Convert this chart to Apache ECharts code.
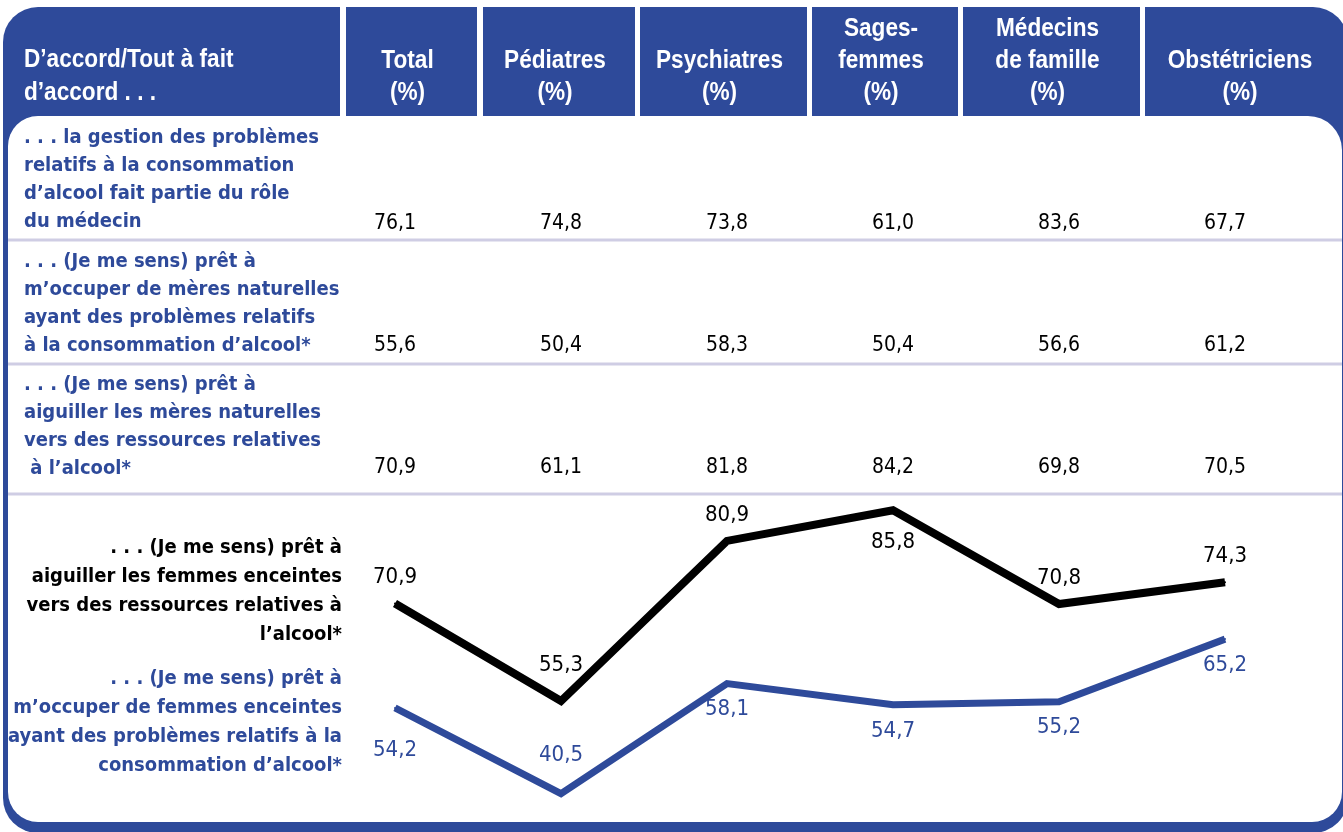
<!DOCTYPE html>
<html>
<head>
<meta charset="utf-8">
<title>Attitudes face à la consommation d'alcool</title>
<script src="https://cdn.jsdelivr.net/npm/echarts@6/dist/echarts.min.js"></script>
<style>
  html, body { margin: 0; padding: 0; background: #fff; }
  #main { width: 1343px; height: 832px; }
</style>
</head>
<body>
<div id="main"></div>
<script>
// colonnes
const columns = ['Total', 'Pédiatres', 'Psychiatres', 'Sages-\nfemmes', 'Médecins\nde famille', 'Obstétriciens']
const headTitle = 'D’accord/Tout à fait\nd’accord . . .'

// lignes du tableau
const rowLabels = [
  '. . . la gestion des problèmes\nrelatifs à la consommation\nd’alcool fait partie du rôle\ndu médecin',
  '. . . (Je me sens) prêt à\nm’occuper de mères naturelles\nayant des problèmes relatifs\nà la consommation d’alcool*',
  '. . . (Je me sens) prêt à\naiguiller les mères naturelles\nvers des ressources relatives\n à l’alcool*'
]
const roleValues = [76.1, 74.8, 73.8, 61.0, 83.6, 67.7]
const careMothersValues = [55.6, 50.4, 58.3, 50.4, 56.6, 61.2]
const referMothersValues = [70.9, 61.1, 81.8, 84.2, 69.8, 70.5]

// courbes (femmes enceintes)
const referPregnantName = '. . . (Je me sens) prêt à\naiguiller les femmes enceintes\nvers des ressources relatives à\nl’alcool*'
const carePregnantName = '. . . (Je me sens) prêt à\nm’occuper de femmes enceintes\nayant des problèmes relatifs à la\nconsommation d’alcool*'
const referPregnantValues = [70.9, 55.3, 80.9, 85.8, 70.8, 74.3]
const carePregnantValues = [54.2, 40.5, 58.1, 54.7, 55.2, 65.2]

const BLUE = '#2e4a9a'
const BODY_FONT = 'DejaVu Sans Condensed'
const HEAD_FONT = 'bold 26px "Liberation Sans", Arial, sans-serif'

const fmt = v => v.toFixed(1).replace('.', ',')

// cellules d'en-tête (x début, x fin)
const headCells = [[346, 477], [483, 635], [640, 807], [812, 958], [963, 1140], [1145, 1343]]

const myChart = echarts.init(document.getElementById('main'))

const graphics = []
// cadre bleu
graphics.push({
  type: 'rect', z: -10,
  shape: { x: 3, y: 7, width: 1345, height: 826, r: 35 },
  style: { fill: BLUE }
})
// séparations blanches de l'en-tête
headCells.forEach((c, i) => {
  const gx = i === 0 ? 340 : headCells[i - 1][1]
  graphics.push({
    type: 'rect', z: -9,
    shape: { x: gx, y: 0, width: c[0] - gx, height: 116 },
    style: { fill: '#fff' }
  })
})
// corps blanc
graphics.push({
  type: 'rect', z: -9,
  shape: { x: 8, y: 116, width: 1334, height: 706, r: [30, 34, 30, 30] },
  style: { fill: '#fff' }
})
// lignes de séparation
;[240, 364, 494].forEach(y => {
  graphics.push({
    type: 'line', z: -8,
    shape: { x1: 8, y1: y, x2: 1342, y2: y },
    style: { stroke: '#cfcde4', lineWidth: 3 }
  })
})
// texte d'en-tête (condensé par scaleX)
graphics.push({
  type: 'text', z: 5, x: 24, y: 109, scaleX: 0.87,
  style: {
    text: headTitle, x: 0, y: 0, fill: '#fff',
    font: HEAD_FONT, lineHeight: 33,
    align: 'left', verticalAlign: 'bottom', textAlign: 'left', textVerticalAlign: 'bottom'
  }
})
columns.forEach((name, i) => {
  const c = headCells[i]
  graphics.push({
    type: 'text', z: 5, x: (c[0] + c[1]) / 2 - 4, y: 109, scaleX: 0.87,
    style: {
      text: name + '\n(%)', x: 0, y: 0, fill: '#fff',
      font: HEAD_FONT, lineHeight: 32,
      align: 'center', verticalAlign: 'bottom', textAlign: 'center', textVerticalAlign: 'bottom'
    }
  })
})
// libellés des lignes
;[124, 248, 371].forEach((y, i) => {
  graphics.push({
    type: 'text', z: 5,
    style: {
      text: rowLabels[i], x: 24, y: y, fill: BLUE,
      font: 'bold 20px "' + BODY_FONT + '"', lineHeight: 28,
      align: 'left', verticalAlign: 'top', textAlign: 'left', textVerticalAlign: 'top'
    }
  })
})
// libellés des courbes
graphics.push({
  type: 'text', z: 5,
  style: {
    text: referPregnantName, x: 342, y: 533, fill: '#000',
    font: 'bold 20px "' + BODY_FONT + '"', lineHeight: 29,
    align: 'right', verticalAlign: 'top', textAlign: 'right', textVerticalAlign: 'top'
  }
})
graphics.push({
  type: 'text', z: 5,
  style: {
    text: carePregnantName, x: 342, y: 664, fill: BLUE,
    font: 'bold 20px "' + BODY_FONT + '"', lineHeight: 29,
    align: 'right', verticalAlign: 'top', textAlign: 'right', textVerticalAlign: 'top'
  }
})

const tableData = []
;[roleValues, careMothersValues, referMothersValues].forEach((arr, r) => {
  arr.forEach((v, c) => tableData.push([c, r, v]))
})

const lineLabel = (color, pos) => ({
  show: true, position: pos, distance: 14, color: color,
  fontFamily: BODY_FONT, fontSize: 22,
  formatter: p => fmt(p.value)
})

const option = {
  animation: false,
  graphic: { elements: graphics },
  grid: [
    { left: 312, right: 35, top: 484, bottom: 4 },
    { left: 312, right: 35, top: 162, height: 367 }
  ],
  xAxis: [
    { type: 'category', data: columns, gridIndex: 0, show: false },
    { type: 'category', data: columns, gridIndex: 1, show: false }
  ],
  yAxis: [
    { type: 'value', min: 35, max: 90, gridIndex: 0, show: false },
    { type: 'category', data: [0, 1, 2], inverse: true, gridIndex: 1, show: false }
  ],
  series: [
    {
      type: 'scatter', xAxisIndex: 1, yAxisIndex: 1,
      symbolSize: 1,
      itemStyle: { color: 'transparent', opacity: 1 },
      data: tableData,
      label: {
        show: true, position: 'inside', color: '#000', opacity: 1,
        textBorderWidth: 0,
        fontFamily: BODY_FONT, fontSize: 21,
        formatter: p => fmt(p.value[2])
      }
    },
    {
      name: referPregnantName, type: 'line',
      data: referPregnantValues.map((v, i) => {
        if (i === 1) return { value: v, label: { distance: 24 } }
        if (i === 3) return { value: v, label: { position: 'bottom', distance: 20 } }
        return v
      }),
      symbol: 'circle', symbolSize: 2,
      itemStyle: { color: '#000' },
      lineStyle: { color: '#000', width: 8, join: 'miter', cap: 'butt' },
      label: lineLabel('#000', 'top')
    },
    {
      name: carePregnantName, type: 'line',
      data: carePregnantValues.map((v, i) => {
        if (i === 0) return { value: v, label: { distance: 30 } }
        if (i === 1) return { value: v, label: { position: 'top', distance: 26 } }
        return v
      }),
      symbol: 'circle', symbolSize: 2,
      itemStyle: { color: BLUE },
      lineStyle: { color: BLUE, width: 7, join: 'miter', cap: 'butt' },
      label: lineLabel(BLUE, 'bottom')
    }
  ]
}

myChart.setOption(option)
</script>
</body>
</html>
